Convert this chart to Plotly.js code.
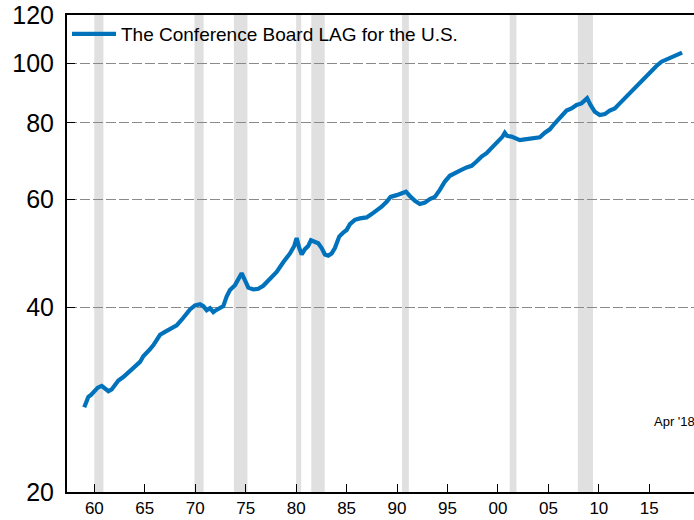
<!DOCTYPE html>
<html>
<head>
<meta charset="utf-8">
<script src="https://cdn.plot.ly/plotly-3.0.1.min.js"></script>
<style>html,body{margin:0;padding:0;background:#fff;}#chart{width:694px;height:520px;}</style>
</head>
<body>
<div id="chart"></div>
<script>
// LAG index (reading of the chart), decimal years
const years = [1959.0, 1959.41, 1959.67, 1959.9, 1960.34, 1960.73, 1961.06, 1961.39, 1961.72, 1962.05,
  1962.38, 1962.87, 1963.37, 1963.76, 1964.2, 1964.53, 1964.85, 1965.19, 1965.52, 1965.84,
  1966.18, 1966.51, 1967.0, 1967.5, 1967.83, 1968.16, 1968.66, 1969.15, 1969.48, 1969.98,
  1970.47, 1970.8, 1971.13, 1971.46, 1971.79, 1972.06, 1972.45, 1972.78, 1973.12, 1973.44,
  1973.94, 1974.26, 1974.6, 1974.93, 1975.26, 1975.75, 1976.25, 1976.74, 1977.4, 1978.07,
  1978.72, 1979.39, 1979.81, 1980.05, 1980.31, 1980.55, 1980.87, 1981.2, 1981.47, 1981.86,
  1982.19, 1982.53, 1982.85, 1983.18, 1983.52, 1983.84, 1984.27, 1984.67, 1985.0, 1985.33,
  1985.82, 1986.32, 1986.98, 1987.48, 1987.97, 1988.47, 1988.97, 1989.36, 1989.96, 1990.45,
  1990.88, 1991.27, 1991.77, 1992.26, 1992.76, 1993.25, 1993.75, 1994.24, 1994.74, 1995.23,
  1995.73, 1996.23, 1996.89, 1997.39, 1997.88, 1998.38, 1998.87, 1999.37, 2000.02, 2000.46,
  2000.68, 2000.91, 2001.35, 2001.84, 2002.17, 2002.66, 2003.16, 2003.66, 2004.15, 2004.65,
  2005.14, 2005.64, 2006.06, 2006.3, 2006.8, 2007.29, 2007.79, 2008.28, 2008.61, 2008.84,
  2009.17, 2009.6, 2010.09, 2010.59, 2011.08, 2011.58, 2012.07, 2012.57, 2013.06, 2013.73,
  2014.23, 2014.72, 2015.22, 2015.71, 2016.21, 2016.7, 2017.2, 2017.62, 2018.25];
const lagValues = [27.5, 28.6, 28.8, 29.1, 29.6, 29.8, 29.5, 29.2, 29.4, 30.0,
  30.4, 30.8, 31.3, 31.8, 32.2, 32.6, 33.3, 33.7, 34.2, 34.7,
  35.5, 36.1, 36.5, 36.9, 37.0, 37.4, 38.2, 39.1, 39.7, 40.3,
  40.5, 40.2, 39.6, 39.9, 39.3, 39.6, 40.0, 40.2, 41.7, 42.7,
  43.5, 44.6, 45.5, 44.3, 43.1, 42.8, 42.9, 43.4, 44.5, 45.7,
  47.4, 49.0, 50.4, 51.9, 50.0, 48.8, 49.8, 50.4, 51.5, 51.1,
  50.9, 50.0, 48.8, 48.6, 49.0, 50.0, 52.2, 53.0, 53.5, 54.7,
  55.6, 55.9, 56.1, 56.8, 57.5, 58.4, 59.5, 60.6, 61.0, 61.4,
  61.8, 60.8, 59.7, 59.0, 59.3, 60.1, 60.6, 62.2, 64.2, 65.6,
  66.4, 66.9, 67.7, 68.1, 69.2, 70.5, 71.4, 72.7, 74.6, 76.0,
  77.1, 76.2, 76.0, 75.5, 75.0, 75.2, 75.5, 75.5, 75.8, 77.1,
  78.1, 79.9, 81.3, 82.4, 83.8, 84.5, 85.6, 86.1, 87.0, 87.8,
  85.6, 83.4, 82.4, 82.7, 83.8, 84.5, 86.1, 87.8, 89.6, 91.7,
  93.4, 95.4, 97.3, 99.1, 100.7, 101.6, 102.6, 103.2, 104.2];

// Recession periods (shaded)
const recessionStart = [1960.0, 1969.92, 1973.83, 1980.0, 1981.5, 1990.5, 2001.17, 2007.92];
const recessionEnd   = [1960.9, 1970.83, 1975.17, 1980.5, 1982.83, 1991.17, 2001.83, 2009.42];

const xTickVals = [1960, 1965, 1970, 1975, 1980, 1985, 1990, 1995, 2000, 2005, 2010, 2015];
const xTickText = ['60', '65', '70', '75', '80', '85', '90', '95', '00', '05', '10', '15'];
const yTickVals = [20, 40, 60, 80, 100, 120];
const yTickText = ['20', '40', '60', '80', '100', '120'];

const seriesName = 'The Conference Board LAG for the U.S.';
const dateNote = "Apr '18";

const FONT = 'Liberation Sans, Arial, Helvetica, sans-serif';

const shapes = recessionStart.map((s, i) => ({
  type: 'rect', xref: 'x', yref: 'paper', x0: s, x1: recessionEnd[i], y0: 0, y1: 1,
  fillcolor: '#e0e0e0', line: {width: 0}, layer: 'below'
}));

const trace = {
  x: years, y: lagValues, type: 'scatter', mode: 'lines', name: seriesName,
  line: {color: '#0072bc', width: 4.2}
};

const layout = {
  width: 694, height: 520,
  margin: {l: 67, r: 0, t: 15, b: 28},
  paper_bgcolor: '#ffffff', plot_bgcolor: '#ffffff',
  font: {family: FONT, color: '#000000'},
  showlegend: true,
  legend: {x: 0.0, y: 1.0, xanchor: 'left', yanchor: 'top', bgcolor: 'rgba(0,0,0,0)',
    font: {size: 19, family: FONT, color: '#000'}, borderwidth: 0, itemwidth: 44},
  xaxis: {
    range: [1957.29, 2019.43], tickmode: 'array', tickvals: xTickVals, ticktext: xTickText,
    ticks: 'inside', ticklen: 8, tickwidth: 1, tickcolor: '#000',
    showgrid: false, zeroline: false, showline: true, linecolor: '#000', linewidth: 2, mirror: true,
    tickfont: {size: 17, family: FONT, color: '#000'}, ticklabelstandoff: 0
  },
  yaxis: {
    type: 'log', range: [Math.log10(20), Math.log10(120)], tickmode: 'array',
    tickvals: yTickVals, ticktext: yTickText,
    ticks: 'inside', ticklen: 8, tickwidth: 1, tickcolor: '#000',
    showgrid: true, gridcolor: '#8a8a8a', gridwidth: 1, griddash: '10px,3px',
    zeroline: false, showline: true, linecolor: '#000', linewidth: 2,
    tickfont: {size: 25, family: FONT, color: '#000'}, ticklabelstandoff: 6
  },
  shapes: shapes,
  annotations: [{
    text: dateNote, xref: 'paper', yref: 'paper', x: 1, y: 0.147, xanchor: 'right', yanchor: 'middle',
    xshift: 3, showarrow: false, font: {size: 13, family: FONT, color: '#000'}
  }]
};

Plotly.newPlot('chart', [trace], layout, {displayModeBar: false, staticPlot: true});
</script>
</body>
</html>
